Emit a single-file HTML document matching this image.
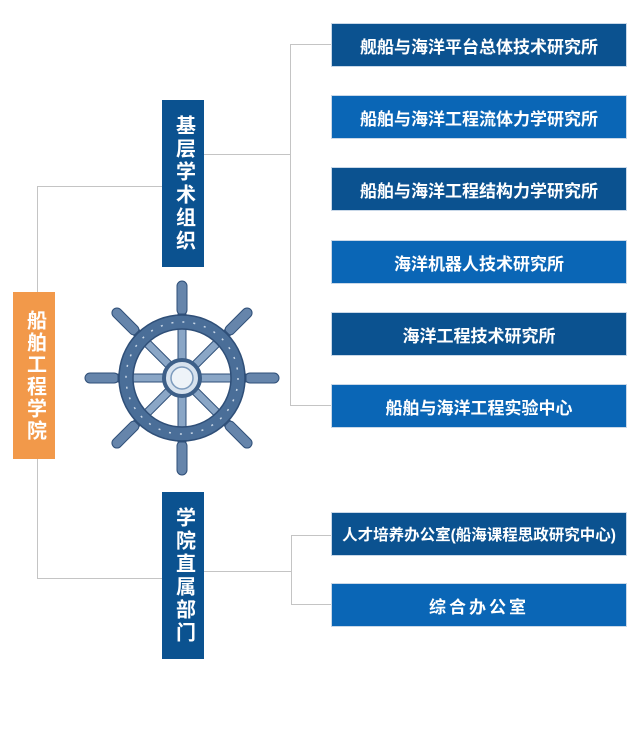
<!DOCTYPE html>
<html><head><meta charset="utf-8"><style>
body{margin:0;width:639px;height:733px;background:#fff;position:relative;overflow:hidden;font-family:"Liberation Sans","Noto Sans CJK SC",sans-serif}
.b{position:absolute;color:#fff;display:flex;align-items:center;justify-content:center;box-sizing:border-box;font-weight:bold}
.h{left:332px;width:294px;height:42px;font-size:17px;box-shadow:0 0 0 1px #c9d8e8}
.d{background:#0b5290}.l{background:#0a66b6}
.v{width:42px;font-size:20px;line-height:29px;writing-mode:vertical-rl;letter-spacing:3px}
.ln{position:absolute;background:#c4c4c4}
</style></head><body>
<div class="ln" style="left:37px;top:186px;width:1px;height:106px"></div>
<div class="ln" style="left:37px;top:186px;width:125px;height:1px"></div>
<div class="ln" style="left:37px;top:459px;width:1px;height:120px"></div>
<div class="ln" style="left:37px;top:578px;width:125px;height:1px"></div>
<div class="ln" style="left:203px;top:154px;width:87px;height:1px"></div>
<div class="ln" style="left:290px;top:44px;width:1px;height:362px"></div>
<div class="ln" style="left:290px;top:44px;width:42px;height:1px"></div>
<div class="ln" style="left:290px;top:405px;width:42px;height:1px"></div>
<div class="ln" style="left:203px;top:571px;width:88px;height:1px"></div>
<div class="ln" style="left:291px;top:535px;width:1px;height:70px"></div>
<div class="ln" style="left:291px;top:535px;width:41px;height:1px"></div>
<div class="ln" style="left:291px;top:604px;width:41px;height:1px"></div>

<div class="b" style="left:13px;top:292px;width:42px;height:167px;background:#f2994a;font-size:20px;line-height:29px;writing-mode:vertical-rl;letter-spacing:2px">船舶工程学院</div>
<div class="b v d" style="left:162px;top:100px;height:167px">基层学术组织</div>
<div class="b v d" style="left:162px;top:492px;height:167px">学院直属部门</div>

<div class="b h d" style="top:24px">舰船与海洋平台总体技术研究所</div>
<div class="b h l" style="top:96px">船舶与海洋工程流体力学研究所</div>
<div class="b h d" style="top:168px">船舶与海洋工程结构力学研究所</div>
<div class="b h l" style="top:241px">海洋机器人技术研究所</div>
<div class="b h d" style="top:313px">海洋工程技术研究所</div>
<div class="b h l" style="top:385px">船舶与海洋工程实验中心</div>
<div class="b h d" style="top:513px;font-size:15.5px">人才培养办公室(船海课程思政研究中心)</div>
<div class="b h l" style="top:584px;letter-spacing:3px">综合办公室</div>

<svg style="position:absolute;left:82px;top:278px" width="200" height="200" viewBox="-100 -100 200 200">
<g fill="#6685ab" stroke="#2f4f78" stroke-width="1">
<g id="s">
<rect x="-5" y="-97" width="10" height="34" rx="5"/>
<rect x="-4" y="-64" width="8" height="46" fill="#8aa6c6"/>
</g>
<use href="#s" transform="rotate(45)"/><use href="#s" transform="rotate(90)"/><use href="#s" transform="rotate(135)"/>
<use href="#s" transform="rotate(180)"/><use href="#s" transform="rotate(225)"/><use href="#s" transform="rotate(270)"/><use href="#s" transform="rotate(315)"/>
</g>
<circle r="56" fill="none" stroke="#4a6e98" stroke-width="14"/>
<circle r="63" fill="none" stroke="#2f4f78" stroke-width="1.5"/>
<circle r="49" fill="none" stroke="#2f4f78" stroke-width="1.5"/>
<circle r="56" fill="none" stroke="#c8d6e6" stroke-width="1.5" stroke-dasharray="2 9"/>
<circle r="18" fill="#d7e2ee" stroke="#3d5f88" stroke-width="4"/>
<circle r="11" fill="#eef3f8" stroke="#7d9bbd" stroke-width="1.5"/>
</svg>
</body></html>
